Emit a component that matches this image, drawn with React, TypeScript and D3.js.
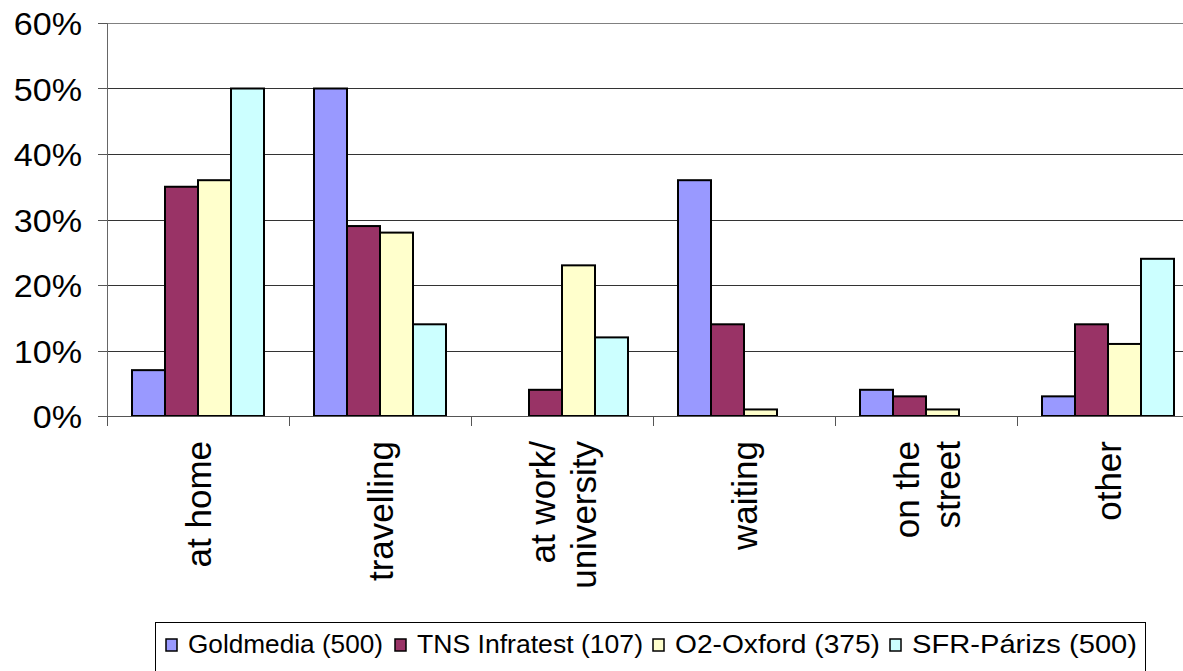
import React from "react";
import * as d3 from "d3";

const categories = ["at home", "travelling", "at work/ university", "waiting", "on the street", "other"];
const categoryLines = [["at home"], ["travelling"], ["at work/", "university"], ["waiting"], ["on the", "street"], ["other"]];
const seriesNames = ["Goldmedia (500)", "TNS Infratest (107)", "O2-Oxford (375)", "SFR-Párizs (500)"];
const seriesColors = ["#9999FF", "#993366", "#FFFFCC", "#CCFFFF"];
const goldmedia = [7, 50, 0, 36, 4, 3];
const tns = [35, 29, 4, 14, 3, 14];
const o2 = [36, 28, 23, 1, 1, 11];
const sfr = [50, 14, 12, 0, 0, 24];
const yTicks = [0, 10, 20, 30, 40, 50, 60];

const W = 1183;
const H = 671;
const left = 107;
const right = 1199;
const top = 23;
const bottom = 416;

export default function App() {
  const values = [goldmedia, tns, o2, sfr];
  const x = d3.scaleBand<string>().domain(categories).range([left, right]).paddingInner(0).paddingOuter(0);
  const bw = x.bandwidth();
  const inner = d3.scaleBand<string>().domain(seriesNames).range([25, bw - 25]).padding(0);
  const y = d3.scaleLinear().domain([0, 60]).range([bottom, top]);

  const legendX = [166, 395, 653, 890];
  const legendTextEnd = [383, 643, 880, 1137];

  return (
    <svg
      width={W}
      height={H}
      style={{ position: "absolute", left: 0, top: 0, background: "#fff" }}
      fontFamily="'Liberation Sans', Arial, sans-serif"
    >
      <rect x={0} y={0} width={W} height={H} fill="#fff" />
      {yTicks.map((t) => (
        <line key={"g" + t} x1={left} x2={W} y1={Math.round(y(t)) + 0.5} y2={Math.round(y(t)) + 0.5} stroke={t === 60 ? "#808080" : "#333"} strokeWidth={1} />
      ))}
      {yTicks.map((t) => (
        <g key={"yt" + t}>
          <line x1={98} x2={left} y1={Math.round(y(t)) + 0.5} y2={Math.round(y(t)) + 0.5} stroke="#555" />
          <g transform={`translate(82, ${y(t) + 12}) scale(1.1, 1)`}>
            <text textAnchor="end" fontSize={31} fill="#000">{t + "%"}</text>
          </g>
        </g>
      ))}
      {categories.map((c, ci) => (
        <g key={c} transform={`translate(${x(c)}, 0)`}>
          {seriesNames.map((s, si) => {
            const v = values[si][ci];
            if (v <= 0) return null;
            return (
              <rect
                key={s}
                x={inner(s)}
                y={y(v)}
                width={inner.bandwidth()}
                height={y(0) - y(v)}
                fill={seriesColors[si]}
                stroke="#000"
                strokeWidth={2}
              />
            );
          })}
        </g>
      ))}
      <line x1={left + 0.5} x2={left + 0.5} y1={top} y2={bottom + 9} stroke="#666" strokeWidth={1} />
      <line x1={left} x2={W} y1={bottom + 0.5} y2={bottom + 0.5} stroke="#555" strokeWidth={1} />
      {categories.map((c, ci) => (
        <line key={"xt" + ci} x1={x(c)! + 0.5} x2={x(c)! + 0.5} y1={bottom} y2={bottom + 10} stroke="#555" />
      ))}
      {categories.map((c, ci) => {
        const cx = x(c)! + bw / 2;
        const lines = categoryLines[ci];
        const n = lines.length;
        return (
          <g key={"cl" + ci}>
            {lines.map((ln, li) => {
              const bx = cx + 13 + (li - (n - 1) / 2) * 41;
              return (
                <text
                  key={li}
                  transform={`translate(${bx}, 441) rotate(-90)`}
                  textAnchor="end"
                  fontSize={35}
                  fill="#000"
                >
                  {ln}
                </text>
              );
            })}
          </g>
        );
      })}
      <rect x={155.5} y={622.5} width={990} height={80} fill="#fff" stroke="#000" strokeWidth={1} />
      {seriesNames.map((s, si) => (
        <g key={"lg" + si}>
          <rect x={legendX[si]} y={639} width={11} height={12} fill={seriesColors[si]} stroke="#000" strokeWidth={1.5} />
          <text
            x={legendX[si] + 22}
            y={653}
            fontSize={26}
            fill="#000"
            textLength={legendTextEnd[si] - legendX[si] - 22}
            lengthAdjust="spacingAndGlyphs"
          >
            {s}
          </text>
        </g>
      ))}
    </svg>
  );
}
